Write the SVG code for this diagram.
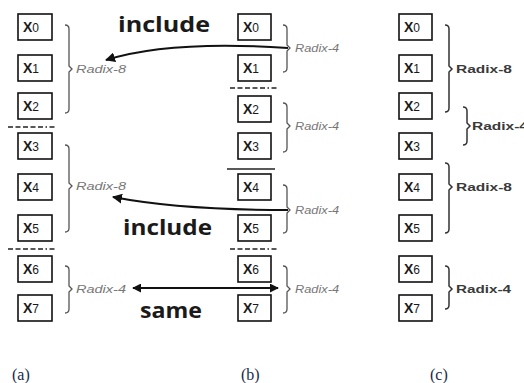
<svg xmlns="http://www.w3.org/2000/svg" width="524" height="383" viewBox="0 0 524 383">
<defs>
<style>
.box{fill:#fff;stroke:#111;stroke-width:1.6}
.xt{font-family:"Liberation Sans",Arial,sans-serif;font-weight:bold;font-size:14px;fill:#1a1a1a}
.sub{font-size:12px;font-weight:normal}
.br{fill:none;stroke:#555;stroke-width:1.3}
.brc{fill:none;stroke:#333;stroke-width:1.5}
.ri{font-family:"Liberation Sans",Arial,sans-serif;font-style:italic;font-size:10px;fill:#777}
.rc{font-family:"Liberation Sans",Arial,sans-serif;font-weight:bold;font-size:11.5px;fill:#3a3a3a}
.big{font-family:"Open Sans","Liberation Sans",sans-serif;font-weight:bold;font-size:22px;fill:#1a1a1a}
.cap{font-family:"Liberation Serif","Times New Roman",serif;font-size:16px;fill:#1b2a4a}
.sep{stroke:#222;stroke-width:1.3;stroke-dasharray:5 2.5 5 2.5 5 2.5 5 2.5 5 2.5 1.5 2.5}
.conn{fill:none;stroke:#111;stroke-width:2}
</style>
<marker id="ah" viewBox="0 0 10 10" refX="9" refY="5" markerWidth="5" markerHeight="5" orient="auto-start-reverse" markerUnits="strokeWidth">
<path d="M0,0 L10,5 L0,10 Z" fill="#111"/>
</marker>
<marker id="ah2" viewBox="0 0 10 10" refX="9" refY="5" markerWidth="4.5" markerHeight="4.5" orient="auto-start-reverse" markerUnits="strokeWidth">
<path d="M0,0 L10,5 L0,10 Z" fill="#111"/>
</marker>
</defs>
<rect width="524" height="383" fill="#fff"/>

<!-- column (a) -->
<g id="a-x0"><rect class="box" x="18" y="14" width="34" height="26"/><text class="xt" x="23" y="32">X<tspan class="sub">0</tspan></text></g>
<g id="a-x1"><rect class="box" x="18" y="55" width="34" height="26"/><text class="xt" x="23" y="73">X<tspan class="sub">1</tspan></text></g>
<g id="a-x2"><rect class="box" x="18" y="93" width="34" height="26"/><text class="xt" x="23" y="111">X<tspan class="sub">2</tspan></text></g>
<g id="a-x3"><rect class="box" x="18" y="133" width="34" height="26"/><text class="xt" x="23" y="151">X<tspan class="sub">3</tspan></text></g>
<g id="a-x4"><rect class="box" x="18" y="174" width="34" height="26"/><text class="xt" x="23" y="192">X<tspan class="sub">4</tspan></text></g>
<g id="a-x5"><rect class="box" x="18" y="215" width="34" height="26"/><text class="xt" x="23" y="233">X<tspan class="sub">5</tspan></text></g>
<g id="a-x6"><rect class="box" x="18" y="256" width="34" height="26"/><text class="xt" x="23" y="274">X<tspan class="sub">6</tspan></text></g>
<g id="a-x7"><rect class="box" x="18" y="295" width="34" height="26"/><text class="xt" x="23" y="313">X<tspan class="sub">7</tspan></text></g>
<line class="sep" x1="8" y1="127" x2="57" y2="127"/>
<line class="sep" x1="8" y1="249" x2="57" y2="249"/>
<g id="a-g1"><path class="br" d="M65,25 Q69,25 69,29 V66 L72,69 L69,72 V109 Q69,113 65,113"/><text class="ri" x="76" y="73" textLength="50" lengthAdjust="spacingAndGlyphs">Radix-8</text></g>
<g id="a-g2"><path class="br" d="M65,145 Q69,145 69,149 V183 L72,186 L69,189 V228 Q69,232 65,232"/><text class="ri" x="76" y="190" textLength="50" lengthAdjust="spacingAndGlyphs">Radix-8</text></g>
<g id="a-g3"><path class="br" d="M65,266 Q69,266 69,270 V286 L72,289 L69,292 V309 Q69,313 65,313"/><text class="ri" x="76" y="293" textLength="50" lengthAdjust="spacingAndGlyphs">Radix-4</text></g>

<!-- column (b) -->
<g id="b-x0"><rect class="box" x="238" y="14" width="33" height="26"/><text class="xt" x="243" y="32">X<tspan class="sub">0</tspan></text></g>
<g id="b-x1"><rect class="box" x="238" y="55" width="33" height="26"/><text class="xt" x="243" y="73">X<tspan class="sub">1</tspan></text></g>
<g id="b-x2"><rect class="box" x="238" y="96" width="33" height="26"/><text class="xt" x="243" y="114">X<tspan class="sub">2</tspan></text></g>
<g id="b-x3"><rect class="box" x="238" y="133" width="33" height="26"/><text class="xt" x="243" y="151">X<tspan class="sub">3</tspan></text></g>
<g id="b-x4"><rect class="box" x="238" y="174" width="33" height="26"/><text class="xt" x="243" y="192">X<tspan class="sub">4</tspan></text></g>
<g id="b-x5"><rect class="box" x="238" y="215" width="33" height="26"/><text class="xt" x="243" y="233">X<tspan class="sub">5</tspan></text></g>
<g id="b-x6"><rect class="box" x="238" y="256" width="33" height="26"/><text class="xt" x="243" y="274">X<tspan class="sub">6</tspan></text></g>
<g id="b-x7"><rect class="box" x="238" y="295" width="33" height="26"/><text class="xt" x="243" y="313">X<tspan class="sub">7</tspan></text></g>
<line class="sep" x1="230" y1="88" x2="278" y2="88"/>
<line x1="227" y1="169" x2="275" y2="169" stroke="#222" stroke-width="1.3"/>
<line class="sep" x1="230" y1="249" x2="278" y2="249"/>
<g id="b-g1"><path class="br" d="M283,25 Q287,25 287,29 V45 L290,48 L287,51 V68 Q287,72 283,72"/><text class="ri" x="295" y="52" textLength="44" lengthAdjust="spacingAndGlyphs">Radix-4</text></g>
<g id="b-g2"><path class="br" d="M283,103 Q287,103 287,107 V123 L290,126 L287,129 V148 Q287,152 283,152"/><text class="ri" x="295" y="130" textLength="44" lengthAdjust="spacingAndGlyphs">Radix-4</text></g>
<g id="b-g3"><path class="br" d="M283,185 Q287,185 287,189 V207 L290,210 L287,213 V229 Q287,233 283,233"/><text class="ri" x="295" y="214" textLength="44" lengthAdjust="spacingAndGlyphs">Radix-4</text></g>
<g id="b-g4"><path class="br" d="M283,266 Q287,266 287,270 V286 L290,289 L287,292 V309 Q287,313 283,313"/><text class="ri" x="295" y="293" textLength="44" lengthAdjust="spacingAndGlyphs">Radix-4</text></g>

<!-- column (c) -->
<g id="c-x0"><rect class="box" x="399" y="14" width="33" height="26"/><text class="xt" x="404" y="32">X<tspan class="sub">0</tspan></text></g>
<g id="c-x1"><rect class="box" x="399" y="55" width="33" height="26"/><text class="xt" x="404" y="73">X<tspan class="sub">1</tspan></text></g>
<g id="c-x2"><rect class="box" x="399" y="93" width="33" height="26"/><text class="xt" x="404" y="111">X<tspan class="sub">2</tspan></text></g>
<g id="c-x3"><rect class="box" x="399" y="133" width="33" height="26"/><text class="xt" x="404" y="151">X<tspan class="sub">3</tspan></text></g>
<g id="c-x4"><rect class="box" x="399" y="174" width="33" height="26"/><text class="xt" x="404" y="192">X<tspan class="sub">4</tspan></text></g>
<g id="c-x5"><rect class="box" x="399" y="215" width="33" height="26"/><text class="xt" x="404" y="233">X<tspan class="sub">5</tspan></text></g>
<g id="c-x6"><rect class="box" x="399" y="256" width="33" height="26"/><text class="xt" x="404" y="274">X<tspan class="sub">6</tspan></text></g>
<g id="c-x7"><rect class="box" x="399" y="295" width="33" height="26"/><text class="xt" x="404" y="313">X<tspan class="sub">7</tspan></text></g>
<g id="c-g1"><path class="brc" d="M445,25 Q449,25 449,29 V66 L452,69 L449,72 V108 Q449,112 445,112"/><text class="rc" x="456" y="73" textLength="56" lengthAdjust="spacingAndGlyphs">Radix-8</text></g>
<g id="c-g2"><path class="brc" d="M463,107 Q467,107 467,111 V123 L470,126 L467,129 V141 Q467,145 463,145"/><text class="rc" x="472" y="130" textLength="56" lengthAdjust="spacingAndGlyphs">Radix-4</text></g>
<g id="c-g3"><path class="brc" d="M445,163 Q449,163 449,167 V184 L452,187 L449,190 V229 Q449,233 445,233"/><text class="rc" x="456" y="191" textLength="56" lengthAdjust="spacingAndGlyphs">Radix-8</text></g>
<g id="c-g4"><path class="brc" d="M445,266 Q449,266 449,270 V286 L452,289 L449,292 V305 Q449,309 445,309"/><text class="rc" x="456" y="293" textLength="55" lengthAdjust="spacingAndGlyphs">Radix-4</text></g>

<!-- connectors -->
<g id="connectors">
<path class="conn" d="M288,48 Q170,40 106,60" marker-end="url(#ah)"/>
<path class="conn" d="M288,210 Q180,210 113,197" marker-end="url(#ah)"/>
<line class="conn" x1="133" y1="288" x2="278" y2="288" stroke-width="2.6" marker-start="url(#ah2)" marker-end="url(#ah2)"/>
</g>

<text class="big" x="118" y="32" textLength="92" lengthAdjust="spacingAndGlyphs">include</text>
<text class="big" x="123" y="235" textLength="89" lengthAdjust="spacingAndGlyphs">include</text>
<text class="big" x="140" y="318" textLength="62" lengthAdjust="spacingAndGlyphs">same</text>

<text class="cap" x="12" y="380">(a)</text>
<text class="cap" x="241" y="380">(b)</text>
<text class="cap" x="430" y="380">(c)</text>
</svg>
